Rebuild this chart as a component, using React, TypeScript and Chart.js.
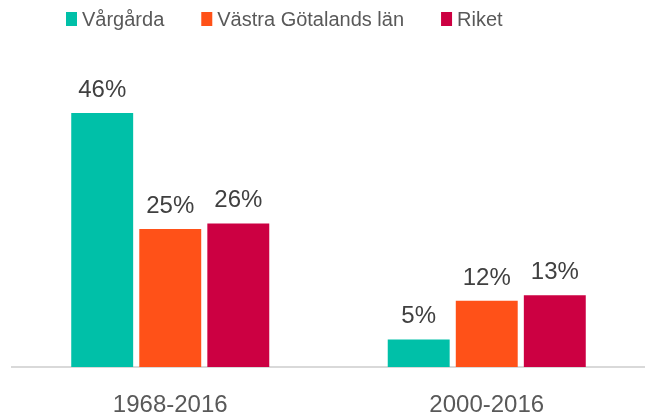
import React, { useEffect, useRef } from "react";
import { Chart, registerables } from "chart.js";

Chart.register(...registerables);

const categories = ["1968-2016", "2000-2016"];
const seriesNames = ["Vårgårda", "Västra Götalands län", "Riket"];
const vargarda = [46, 5];
const vastra = [25, 12];
const riket = [26, 13];
const colors = ["#00C0A8", "#FF5118", "#CC0042"];

const FONT = "Arial, 'Liberation Sans', sans-serif";

const labelPlugin = {
  id: "valueLabels",
  afterDatasetsDraw(chart: any) {
    const ctx = chart.ctx;
    ctx.save();
    ctx.font = `24px ${FONT}`;
    ctx.fillStyle = "#404040";
    ctx.textAlign = "center";
    ctx.textBaseline = "alphabetic";
    chart.data.datasets.forEach((ds: any, i: number) => {
      const meta = chart.getDatasetMeta(i);
      meta.data.forEach((el: any, j: number) => {
        ctx.fillText(`${ds.data[j]}%`, el.x, el.y - 16);
      });
    });
    ctx.restore();
  },
};

const legendPlugin = {
  id: "customLegend",
  afterDraw(chart: any) {
    const ctx = chart.ctx;
    ctx.save();
    ctx.font = `20px ${FONT}`;
    ctx.textBaseline = "middle";
    ctx.textAlign = "left";
    let x = 66;
    const y = 19;
    seriesNames.forEach((name, i) => {
      ctx.fillStyle = colors[i];
      ctx.fillRect(x, y - 7, 11, 14);
      ctx.fillStyle = "#595959";
      ctx.fillText(name, x + 16, y + 1);
      x += 16 + ctx.measureText(name).width + 37;
    });
    ctx.restore();
  },
};

export default function App() {
  const ref = useRef<HTMLCanvasElement>(null);
  useEffect(() => {
    if (!ref.current) return;
    const chart = new Chart(ref.current, {
      type: "bar",
      data: {
        labels: categories,
        datasets: [
          { label: seriesNames[0], data: vargarda, backgroundColor: colors[0] },
          { label: seriesNames[1], data: vastra, backgroundColor: colors[1] },
          { label: seriesNames[2], data: riket, backgroundColor: colors[2] },
        ],
      },
      options: {
        animation: false,
        responsive: false,
        maintainAspectRatio: false,
        datasets: { bar: { categoryPercentage: 0.645, barPercentage: 0.91 } } as any,
        layout: { padding: { top: 91, left: 12, right: 0, bottom: 0 } },
        plugins: { legend: { display: false }, tooltip: { enabled: false } },
        scales: {
          x: {
            grid: { display: false, drawTicks: false },
            border: { display: true, color: "#D9D9D9", width: 2 },
            ticks: { color: "#595959", font: { size: 24, family: FONT }, padding: 24 },
            afterFit: (scale: any) => {
              scale.height = 49;
            },
          },
          y: { display: false, min: 0, max: 50 },
        },
      },
      plugins: [labelPlugin, legendPlugin],
    });
    return () => chart.destroy();
  }, []);
  return (
    <div style={{ position: "fixed", left: 0, top: 0, width: 645, height: 416, background: "#fff" }}>
      <canvas ref={ref} width={645} height={416} />
    </div>
  );
}
